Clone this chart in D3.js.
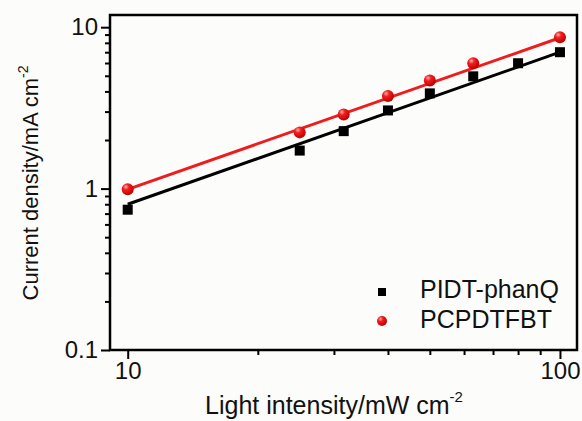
<!DOCTYPE html>
<html>
<head>
<meta charset="utf-8">
<script src="https://cdn.jsdelivr.net/npm/d3@7"></script>
<style>
  body { margin: 0; background: #fcfcfa; }
  svg { display: block; font-family: "Liberation Sans", Arial, sans-serif; }
  .axis text { font-size: 24px; fill: #111; }
  .axis path, .axis line { stroke: #000; stroke-width: 2; }
</style>
</head>
<body>
<div id="chart"></div>
<script>
// light intensity (mW cm-2)
const intensityA = [10, 25, 31.6, 40, 50, 63, 80, 100];
const densityA = [0.74, 1.72, 2.27, 3.05, 3.89, 4.96, 5.98, 7.0];
const intensityB = [10, 25, 31.6, 40, 50, 63, 100];
const densityB = [0.99, 2.23, 2.88, 3.75, 4.68, 5.98, 8.67];
// fitted lines, value at 10 and 100
const fitX = [10, 100];
const fitA = [0.80, 7.0];
const fitB = [0.99, 8.6];
const seriesNames = ['PIDT-phanQ', 'PCPDTFBT'];
const xTicks = [10, 100];
const yTicks = [0.1, 1, 10];

const width = 582, height = 421;
const margin = { top: 15, right: 5, bottom: 71, left: 110 };

const svg = d3.select('#chart').append('svg')
  .attr('width', width).attr('height', height);

const defs = svg.append('defs');
const grad = defs.append('radialGradient').attr('id', 'ball')
  .attr('cx', '35%').attr('cy', '30%').attr('r', '70%');
grad.append('stop').attr('offset', '0%').attr('stop-color', '#ffb0b0');
grad.append('stop').attr('offset', '35%').attr('stop-color', '#f02020');
grad.append('stop').attr('offset', '100%').attr('stop-color', '#c00000');

const x = d3.scaleLog().domain([9.1, 109.5]).range([margin.left, width - margin.right]);
const y = d3.scaleLog().domain([0.1, 11.9]).range([height - margin.bottom, margin.top]);

const minorX = d3.range(2, 10).map(d => d * 10);
const minorY = d3.range(2, 10).map(d => d * 0.1).concat(d3.range(2, 10).map(d => d));

// minor ticks
svg.append('g').attr('class', 'axis')
  .attr('transform', `translate(0,${height - margin.bottom})`)
  .call(d3.axisBottom(x).tickValues(minorX).tickSize(5).tickFormat(''))
  .call(g => g.select('.domain').remove());
svg.append('g').attr('class', 'axis')
  .attr('transform', `translate(${margin.left},0)`)
  .call(d3.axisLeft(y).tickValues(minorY).tickSize(5).tickFormat(''))
  .call(g => g.select('.domain').remove());

// major ticks
svg.append('g').attr('class', 'axis')
  .attr('transform', `translate(0,${height - margin.bottom})`)
  .call(d3.axisBottom(x).tickValues(xTicks).tickSize(9).tickPadding(3).tickFormat(d3.format('d')))
  .call(g => g.select('.domain').remove());
svg.append('g').attr('class', 'axis')
  .attr('transform', `translate(${margin.left},0)`)
  .call(d3.axisLeft(y).tickValues(yTicks).tickSize(9).tickPadding(3).tickFormat(d => d === 0.1 ? '0.1' : d3.format('d')(d)))
  .call(g => g.select('.domain').remove());

// frame
svg.append('rect')
  .attr('x', margin.left).attr('y', margin.top)
  .attr('width', width - margin.left - margin.right)
  .attr('height', height - margin.top - margin.bottom)
  .attr('fill', 'none').attr('stroke', '#000').attr('stroke-width', 2.5);

const line = d3.line().x(d => x(d[0])).y(d => y(d[1]));

svg.append('path').datum(fitX.map((d, i) => [d, fitA[i]]))
  .attr('d', line).attr('stroke', '#000').attr('stroke-width', 3).attr('fill', 'none');
svg.append('path').datum(fitX.map((d, i) => [d, fitB[i]]))
  .attr('d', line).attr('stroke', '#ee1c1c').attr('stroke-width', 3).attr('fill', 'none');

const sq = 10;
svg.append('g').selectAll('rect')
  .data(intensityA.map((d, i) => [d, densityA[i]]))
  .join('rect')
  .attr('x', d => x(d[0]) - sq / 2).attr('y', d => y(d[1]) - sq / 2)
  .attr('width', sq).attr('height', sq).attr('fill', '#000');

svg.append('g').selectAll('circle')
  .data(intensityB.map((d, i) => [d, densityB[i]]))
  .join('circle')
  .attr('cx', d => x(d[0])).attr('cy', d => y(d[1])).attr('r', 6)
  .attr('fill', 'url(#ball)');

// legend
const legend = svg.append('g').attr('transform', 'translate(382,292)');
legend.append('rect').attr('x', -4).attr('y', -4).attr('width', 8).attr('height', 8).attr('fill', '#000');
legend.append('circle').attr('cx', 0).attr('cy', 29).attr('r', 5).attr('fill', 'url(#ball)');
legend.selectAll('text').data(seriesNames).join('text')
  .attr('x', 38).attr('y', (d, i) => 6 + i * 30)
  .attr('font-size', 25).attr('fill', '#111')
  .text(d => d);

// axis titles
const xTitle = svg.append('text')
  .attr('x', 334).attr('y', 414).attr('text-anchor', 'middle')
  .attr('font-size', 25).attr('fill', '#111');
xTitle.append('tspan').text('Light intensity/mW cm');
xTitle.append('tspan').attr('dy', -12).attr('font-size', 15).text('-2');

const yTitle = svg.append('text')
  .attr('transform', 'translate(38,183) rotate(-90)')
  .attr('text-anchor', 'middle')
  .attr('font-size', 22).attr('fill', '#111');
yTitle.append('tspan').text('Current density/mA cm');
yTitle.append('tspan').attr('dy', -10).attr('font-size', 14).text('-2');
</script>
</body>
</html>
